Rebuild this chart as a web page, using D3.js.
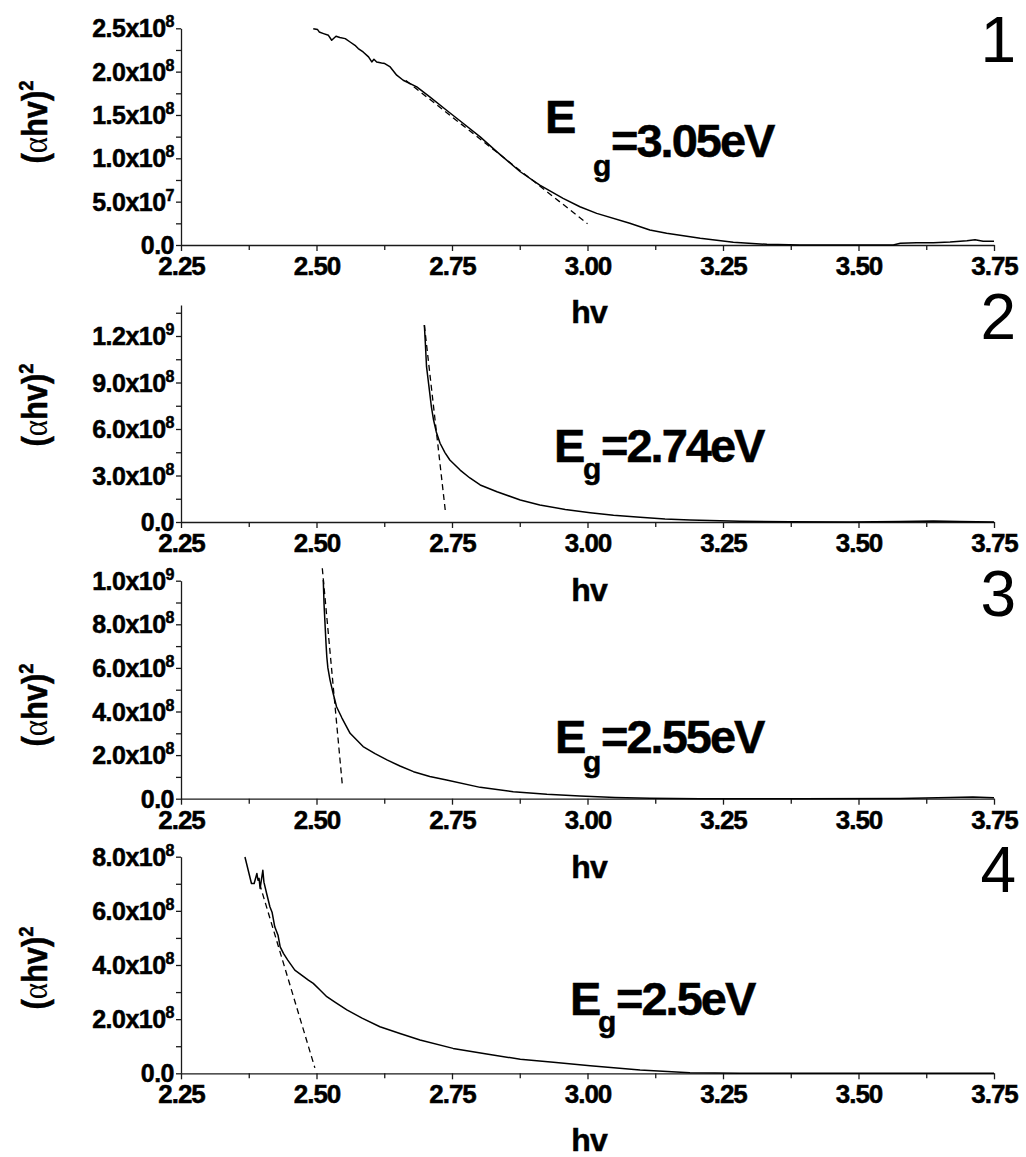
<!DOCTYPE html>
<html>
<head>
<meta charset="utf-8">
<script src="https://cdn.jsdelivr.net/npm/d3@7"></script>
<style>
  body { margin: 0; background: #fff; }
  svg { display: block; }
  text { font-family: "Liberation Sans", Arial, sans-serif; fill: #000; }
  .heavy { stroke: #000; stroke-width: 0.5px; }
</style>
</head>
<body>
<svg id="chart" width="1026" height="1157"></svg>
<script>
// Photon energy axis (eV)
const hvTicks = [2.25, 2.50, 2.75, 3.00, 3.25, 3.50, 3.75];
const hvMinor = [2.375, 2.625, 2.875, 3.125, 3.375, 3.625];

// Sample numbers and fitted band gaps (eV)
const sampleNames = ["1", "2", "3", "4"];
const bandGaps = [3.05, 2.74, 2.55, 2.5];

// (alpha h nu)^2 axis ranges and tick steps per sample
const yMax = [2.5e8, 1.4e9, 1.0e9, 8.0e8];
const yMajorStep = [5e7, 3e8, 2e8, 2e8];
const yMajorTop = [2.5e8, 1.2e9, 1.0e9, 8.0e8];
const yMinorStep = [2.5e7, 1.5e8, 1e8, 1e8];

// Tauc curves: [h nu (eV), (alpha h nu)^2]
const curve1 = [
  [2.494, 2.496e8], [2.502, 2.485e8], [2.505, 2.458e8], [2.513, 2.439e8], [2.522, 2.419e8],
  [2.528, 2.362e8], [2.536, 2.408e8], [2.543, 2.393e8], [2.553, 2.381e8], [2.562, 2.342e8],
  [2.571, 2.304e8], [2.577, 2.266e8], [2.586, 2.227e8], [2.596, 2.170e8], [2.602, 2.112e8],
  [2.606, 2.143e8], [2.611, 2.112e8], [2.620, 2.100e8], [2.626, 2.093e8], [2.636, 2.054e8],
  [2.648, 1.959e8], [2.660, 1.901e8], [2.685, 1.824e8], [2.709, 1.709e8], [2.740, 1.555e8],
  [2.771, 1.402e8], [2.802, 1.248e8], [2.833, 1.075e8], [2.876, 8.45e7], [2.912, 6.91e7],
  [2.955, 5.38e7], [2.986, 4.41e7], [3.017, 3.65e7], [3.078, 2.50e7], [3.115, 1.73e7],
  [3.146, 1.35e7], [3.208, 7.7e6], [3.269, 3.1e6], [3.331, 8e5], [3.392, 0],
  [3.453, 0], [3.564, 0], [3.577, 2.0e6], [3.607, 2.7e6], [3.638, 2.7e6],
  [3.669, 3.5e6], [3.700, 5.0e6], [3.715, 6.1e6], [3.730, 4.2e6], [3.750, 4.2e6]
];
const curve2 = [
  [2.699, 1.271e9], [2.701, 1.142e9], [2.703, 1.002e9], [2.706, 9.16e8], [2.709, 8.30e8],
  [2.712, 7.42e8], [2.716, 6.58e8], [2.721, 5.81e8], [2.728, 5.08e8], [2.737, 4.48e8],
  [2.746, 4.00e8], [2.765, 3.35e8], [2.783, 2.84e8], [2.802, 2.39e8], [2.833, 1.95e8],
  [2.876, 1.42e8], [2.912, 1.10e8], [2.959, 8.1e7], [3.005, 6.0e7], [3.048, 4.3e7],
  [3.097, 3.0e7], [3.143, 1.9e7], [3.189, 1.3e7], [3.281, 4.5e6], [3.373, 1.3e6],
  [3.484, 0], [3.577, 2.6e6], [3.638, 6.5e6], [3.687, 2.6e6], [3.750, 0]
];
const curve3 = [
  [2.5125, 1.003e9], [2.514, 8.88e8], [2.516, 7.89e8], [2.5175, 7.14e8], [2.519, 6.51e8],
  [2.521, 6.00e8], [2.525, 5.44e8], [2.531, 4.80e8], [2.537, 4.22e8], [2.547, 3.70e8],
  [2.562, 3.00e8], [2.586, 2.39e8], [2.608, 2.07e8], [2.630, 1.78e8], [2.654, 1.50e8],
  [2.679, 1.24e8], [2.709, 1.02e8], [2.740, 8.6e7], [2.802, 5.2e7], [2.863, 3.2e7],
  [2.925, 2.0e7], [2.986, 1.2e7], [3.051, 5.5e6], [3.115, 1.8e6], [3.208, 0],
  [3.392, 0], [3.577, 9e5], [3.669, 5.5e6], [3.711, 8e6], [3.750, 4.6e6]
];
const curve4 = [
  [2.368, 7.99e8], [2.374, 7.50e8], [2.380, 7.01e8], [2.385, 7.01e8], [2.390, 7.38e8],
  [2.392, 7.13e8], [2.394, 7.20e8], [2.396, 6.83e8], [2.401, 7.50e8], [2.403, 7.06e8],
  [2.408, 6.64e8], [2.414, 6.15e8], [2.418, 5.95e8], [2.423, 5.41e8], [2.429, 5.10e8],
  [2.433, 4.67e8], [2.439, 4.43e8], [2.447, 4.18e8], [2.460, 3.81e8], [2.475, 3.59e8],
  [2.485, 3.44e8], [2.494, 3.32e8], [2.507, 3.07e8], [2.519, 2.83e8], [2.534, 2.63e8],
  [2.556, 2.34e8], [2.584, 2.04e8], [2.617, 1.72e8], [2.654, 1.47e8], [2.691, 1.23e8],
  [2.752, 9.2e7], [2.814, 7.1e7], [2.876, 5.2e7], [2.937, 4.1e7], [3.005, 2.8e7],
  [3.097, 1.2e7], [3.189, 2.2e6], [3.281, 0], [3.750, 0]
];
const curves = [curve1, curve2, curve3, curve4];

// Linear extrapolation of the absorption edge: a point on the line, and the h nu span drawn
const tangentPoint = [[2.80, 1.232e8], [2.699, 1.27e9], [2.5107, 1.057e9], [2.395, 7.0e8]];
const tangentSpan = [[2.665, 3.00], [2.699, 2.738], [2.5107, 2.548], [2.395, 2.497]];

// ---- layout ----
const svg = d3.select("#chart");
const x = d3.scaleLinear().domain([2.25, 3.75]).range([181, 994]);
const panelBottom = [245, 522, 798.7, 1073.3];
const panelTop = [28.3, 305, 580.7, 856.7];
const hvTitleY = [323, 601, 878, 1151];
const yTitleY = [122, 405, 705, 968];
const numberY = [62, 339, 616, 892];
// E, g, "=...eV" positions
const egPos = [
  { ex: 545, ey: 133, gx: 593, gy: 176, rx: 611, ry: 157 },
  { ex: 554, ey: 461.7, gx: 583, gy: 479, rx: 601, ry: 461.7 },
  { ex: 555, ey: 753.3, gx: 583, gy: 772, rx: 601, ry: 753.3 },
  { ex: 570, ey: 1015, gx: 598, gy: 1032, rx: 616, ry: 1015 }
];

function sciParts(v) {
  if (v === 0) return ["0.0", null];
  const e = Math.floor(Math.log10(v) + 1e-9);
  const m = v / Math.pow(10, e);
  return [m.toFixed(1) + "x10", String(e)];
}

sampleNames.forEach((name, i) => {
  const y = d3.scaleLinear().domain([0, yMax[i]]).range([panelBottom[i], panelTop[i]]);
  const g = svg.append("g");

  // x axis: minor then major ticks
  g.append("g")
    .attr("transform", `translate(0,${panelBottom[i]})`)
    .call(d3.axisBottom(x).tickValues(hvMinor).tickSize(5).tickFormat(""))
    .call(s => s.select(".domain").remove());
  const xa = g.append("g")
    .attr("transform", `translate(0,${panelBottom[i]})`)
    .call(d3.axisBottom(x).tickValues(hvTicks).tickSize(6).tickSizeOuter(0).tickFormat(d3.format(".2f")));
  xa.selectAll(".tick text")
    .attr("y", 30).attr("dy", null).attr("class", "heavy")
    .style("font-size", "26px").style("font-weight", "bold").style("letter-spacing", "-1px");

  // y axis
  const majors = d3.range(0, yMajorTop[i] + yMajorStep[i] / 2, yMajorStep[i]);
  const minors = d3.range(0, yMax[i] + yMinorStep[i] / 2, yMinorStep[i])
    .filter(v => majors.every(m => Math.abs(m - v) > yMinorStep[i] / 10) && v < yMax[i] - yMinorStep[i] / 10);
  g.append("g")
    .attr("transform", "translate(181,0)")
    .call(d3.axisLeft(y).tickValues(minors).tickSize(5).tickFormat(""))
    .call(s => s.select(".domain").remove());
  const ya = g.append("g")
    .attr("transform", "translate(181,0)")
    .call(d3.axisLeft(y).tickValues(majors).tickSize(5).tickSizeOuter(0).tickFormat(d => d));
  ya.selectAll(".tick text").each(function (d) {
    const t = d3.select(this).text("").attr("x", -7).attr("y", 8.5).attr("dy", null)
      .attr("class", "heavy")
      .style("font-size", "25px").style("font-weight", "bold").style("letter-spacing", "-0.5px");
    const [main, exp] = sciParts(d);
    t.append("tspan").text(main);
    if (exp) t.append("tspan").attr("dy", -10).style("font-size", "16px").text(exp);
  });

  g.selectAll(".domain, .tick line").attr("stroke", "#1a1a1a").attr("stroke-width", 1.3);

  // absorption curve
  g.append("path")
    .datum(curves[i])
    .attr("fill", "none").attr("stroke", "#000").attr("stroke-width", 1.5)
    .attr("stroke-linejoin", "round")
    .attr("d", d3.line().x(d => x(d[0])).y(d => y(d[1])));

  // extrapolated edge, crossing zero at the band gap
  const [ph, pv] = tangentPoint[i];
  const lineAt = h => pv * (bandGaps[i] - h) / (bandGaps[i] - ph);
  g.append("path")
    .datum(tangentSpan[i].map(h => [h, lineAt(h)]))
    .attr("fill", "none").attr("stroke", "#000").attr("stroke-width", 1.3)
    .attr("stroke-dasharray", "6,4")
    .attr("d", d3.line().x(d => x(d[0])).y(d => y(d[1])));

  // axis titles
  g.append("text")
    .attr("x", 589).attr("y", hvTitleY[i]).attr("text-anchor", "middle")
    .attr("class", "heavy")
    .style("font-size", "32px").style("font-weight", "bold").style("letter-spacing", "-1px")
    .text("hv");

  const yt = g.append("text")
    .attr("transform", `translate(47,${yTitleY[i]}) rotate(-90) scale(0.88,1)`)
    .attr("text-anchor", "middle")
    .style("font-size", "35px").style("font-weight", "bold");
  yt.append("tspan").attr("class", "heavy").text("(");
  yt.append("tspan").style("font-family", "'Liberation Serif', serif").style("font-weight", "normal").text("α");
  yt.append("tspan").attr("class", "heavy").text("hv)");
  yt.append("tspan").attr("class", "heavy").attr("dy", -14).style("font-size", "21px").text("2");

  // sample number
  g.append("text")
    .attr("x", 1016).attr("y", numberY[i]).attr("text-anchor", "end")
    .style("font-size", "64px").text(name);

  // band gap label
  const p = egPos[i];
  g.append("text").attr("x", p.ex).attr("y", p.ey).attr("class", "heavy")
    .style("font-size", "47px").style("font-weight", "bold").text("E");
  g.append("text").attr("x", p.gx).attr("y", p.gy).attr("class", "heavy")
    .style("font-size", "30px").style("font-weight", "bold").text("g");
  g.append("text").attr("x", p.rx).attr("y", p.ry).attr("class", "heavy")
    .style("font-size", "47px").style("font-weight", "bold").style("letter-spacing", "-2px")
    .text("=" + bandGaps[i] + "eV");
});
</script>
</body>
</html>
